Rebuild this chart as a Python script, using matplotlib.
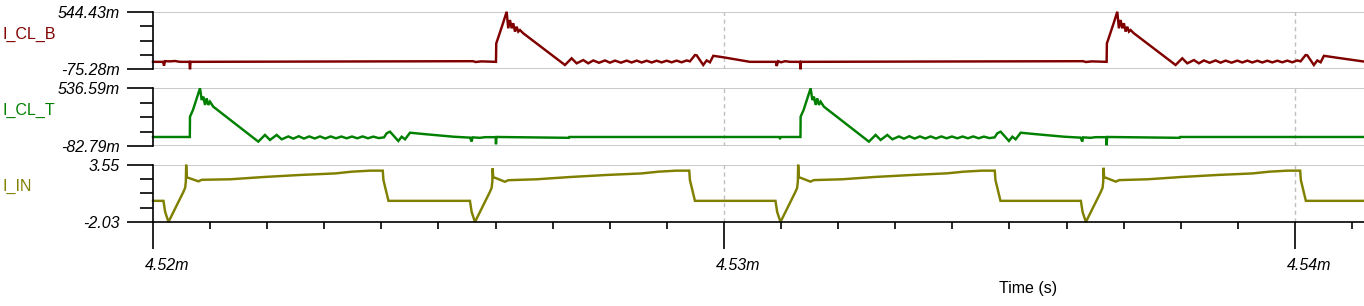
import matplotlib
matplotlib.use("Agg")
import matplotlib.pyplot as plt
import matplotlib.transforms as mtransforms
from matplotlib.ticker import FixedLocator, MultipleLocator
import numpy as np

plt.rcParams['font.family'] = ['Liberation Sans', 'DejaVu Sans']

# ---------------- data (time in microseconds after T0_US, current in A) ----------------
T0_US = 4520.0

ICLB_POINTS = [
    (0.000, 0.005), (0.175, 0.005), (0.193, -0.035), (0.210, 0.012), (0.298, 0.010),
    (0.385, 0.014), (0.473, 0.005), (0.639, 0.005), (0.648, -0.075), (0.657, 0.005),
    (5.604, 0.012), (5.650, 0.003), (5.750, 0.010), (6.007, 0.005),
    (6.012, 0.204), (6.042, 0.258), (6.130, 0.420), (6.194, 0.544), (6.222, 0.366),
    (6.252, 0.455), (6.282, 0.366), (6.310, 0.420), (6.340, 0.330), (6.369, 0.383),
    (6.398, 0.330), (6.427, 0.347), (6.485, 0.312), (7.215, -0.029),
    (7.332, 0.043), (7.420, -0.011), (7.536, 0.024), (7.623, -0.011), (7.711, 0.020),
    (7.811, -0.005), (7.916, 0.020), (8.003, -0.004), (8.091, 0.018), (8.196, -0.004),
    (8.296, 0.018), (8.383, -0.002), (8.471, 0.018), (8.559, -0.002), (8.646, 0.017),
    (8.734, -0.002), (8.821, 0.017), (8.909, -0.001), (8.996, 0.017), (9.084, 0.000),
    (9.171, 0.018), (9.259, 0.000), (9.346, 0.020), (9.404, 0.010), (9.492, 0.078),
    (9.522, 0.075), (9.637, -0.029), (9.697, 0.020), (9.755, 0.000), (9.813, 0.070),
    (9.988, 0.054), (10.455, 0.005), (10.911, 0.005), (10.923, -0.040), (10.950, 0.012),
    (11.000, 0.000), (11.070, 0.012), (11.156, 0.005), (11.331, 0.005), (11.340, -0.075),
    (11.348, 0.005), (16.290, 0.012), (16.340, 0.003), (16.440, 0.010), (16.702, 0.005),
    (16.707, 0.204), (16.737, 0.258), (16.825, 0.420), (16.889, 0.544), (16.917, 0.366),
    (16.947, 0.455), (16.977, 0.366), (17.005, 0.420), (17.035, 0.330), (17.064, 0.383),
    (17.093, 0.330), (17.122, 0.347), (17.180, 0.312), (17.910, -0.029),
    (18.027, 0.043), (18.115, -0.011), (18.231, 0.024), (18.318, -0.011), (18.406, 0.020),
    (18.506, -0.005), (18.611, 0.020), (18.698, -0.004), (18.786, 0.018), (18.891, -0.004),
    (18.991, 0.018), (19.078, -0.002), (19.166, 0.018), (19.254, -0.002), (19.341, 0.017),
    (19.429, -0.002), (19.516, 0.017), (19.604, -0.001), (19.691, 0.017), (19.779, 0.000),
    (19.866, 0.018), (19.954, 0.000), (20.041, 0.020), (20.099, 0.010), (20.187, 0.078),
    (20.217, 0.075), (20.332, -0.029), (20.392, 0.020), (20.450, 0.000), (20.508, 0.070),
    (20.683, 0.054), (21.210, 0.008),
]

ICLT_POINTS = [
    (0.000, 0.014), (0.645, 0.014), (0.648, 0.232), (0.700, 0.304), (0.823, 0.537),
    (0.853, 0.411), (0.881, 0.447), (0.911, 0.358), (0.940, 0.429), (0.969, 0.358),
    (0.998, 0.393), (1.056, 0.339), (1.844, -0.036), (1.961, 0.036), (2.049, -0.018),
    (2.166, 0.036), (2.254, -0.011), (2.370, 0.020), (2.457, -0.004), (2.552, 0.022),
    (2.644, -0.003), (2.737, 0.020), (2.832, -0.002), (2.925, 0.020), (3.018, -0.002),
    (3.112, 0.020), (3.205, 0.000), (3.298, 0.019), (3.392, 0.000), (3.485, 0.019),
    (3.578, 0.000), (3.672, 0.020), (3.765, 0.000), (3.858, 0.018), (3.953, 0.002),
    (4.046, 0.010), (4.093, 0.054), (4.151, 0.071), (4.296, -0.029), (4.356, 0.017),
    (4.414, -0.011), (4.502, 0.060), (4.734, 0.046), (5.259, 0.017), (5.552, 0.007),
    (5.581, -0.036), (5.595, 0.010), (5.727, 0.005), (5.814, 0.012), (6.002, 0.012),
    (6.007, -0.064), (6.016, 0.014), (7.285, 0.005), (7.294, 0.014), (10.960, 0.014),
    (10.981, 0.000), (10.998, 0.014), (11.340, 0.014),
    (11.343, 0.232), (11.395, 0.304), (11.518, 0.537), (11.548, 0.411), (11.576, 0.447),
    (11.606, 0.358), (11.635, 0.429), (11.664, 0.358), (11.693, 0.393), (11.751, 0.339),
    (12.539, -0.036), (12.656, 0.036), (12.744, -0.018), (12.861, 0.036), (12.949, -0.011),
    (13.065, 0.020), (13.152, -0.004), (13.247, 0.022), (13.339, -0.003), (13.432, 0.020),
    (13.527, -0.002), (13.620, 0.020), (13.713, -0.002), (13.807, 0.020), (13.900, 0.000),
    (13.993, 0.019), (14.087, 0.000), (14.180, 0.019), (14.273, 0.000), (14.367, 0.020),
    (14.460, 0.000), (14.553, 0.018), (14.648, 0.002), (14.741, 0.010), (14.788, 0.054),
    (14.846, 0.071), (14.991, -0.029), (15.051, 0.017), (15.109, -0.011), (15.197, 0.060),
    (15.429, 0.046), (15.954, 0.017), (16.247, 0.007), (16.276, -0.036), (16.290, 0.010),
    (16.422, 0.005), (16.509, 0.012), (16.697, 0.012), (16.702, -0.075), (16.711, 0.014),
    (17.980, 0.005), (17.989, 0.014), (21.210, 0.014),
]

IIN_POINTS = [
    (0.000, 0.03), (0.183, 0.03), (0.213, -1.05), (0.271, -2.03), (0.534, 0.92),
    (0.563, 1.30), (0.575, 1.90), (0.581, 3.55), (0.591, 2.30), (0.621, 2.27),
    (0.796, 1.93), (0.854, 2.08), (1.352, 2.13), (1.935, 2.35), (2.577, 2.55),
    (3.190, 2.70), (3.481, 2.87), (3.803, 2.97), (4.024, 2.97), (4.036, 2.05),
    (4.124, 0.03),
    (5.551, 0.03), (5.581, -1.05), (5.639, -2.03), (5.902, 0.92), (5.931, 1.30),
    (5.943, 1.90), (5.949, 3.20), (5.959, 2.30), (5.989, 2.28), (6.164, 1.89),
    (6.222, 2.04), (6.720, 2.13), (7.303, 2.35), (7.945, 2.55), (8.558, 2.70),
    (8.849, 2.87), (9.171, 2.97), (9.392, 2.97), (9.404, 2.05), (9.492, 0.03),
    (10.902, 0.03), (10.932, -1.05), (10.990, -2.03), (11.253, 0.92), (11.282, 1.30),
    (11.294, 1.90), (11.300, 3.55), (11.310, 2.30), (11.340, 2.28), (11.515, 1.90),
    (11.573, 2.05), (12.071, 2.13), (12.654, 2.36), (13.296, 2.55), (13.909, 2.71),
    (14.200, 2.87), (14.522, 2.97), (14.743, 2.97), (14.755, 2.05), (14.843, 0.03),
    (16.251, 0.03), (16.281, -1.05), (16.339, -2.03), (16.602, 0.92), (16.631, 1.30),
    (16.643, 1.90), (16.649, 3.25), (16.659, 2.30), (16.689, 2.28), (16.864, 1.90),
    (16.922, 2.05), (17.420, 2.13), (18.003, 2.35), (18.645, 2.55), (19.258, 2.70),
    (19.549, 2.87), (19.871, 2.97), (20.092, 2.97), (20.104, 2.05), (20.192, 0.03),
    (21.210, 0.03),
]

SERIES_NAMES = ["I_CL_B", "I_CL_T", "I_IN"]
SERIES_COLORS = ["#800000", "#008000", "#808000"]
Y_LIMITS = [(-0.07528, 0.54443), (-0.08279, 0.53659), (-2.03, 3.55)]
Y_TICK_LABELS = [("-75.28m", "544.43m"), ("-82.79m", "536.59m"), ("-2.03", "3.55")]
X_RANGE_US = (4520.0, 4541.21)
X_TICKS_US = [4520.0, 4530.0, 4540.0]
X_TICK_LABELS = ["4.52m", "4.53m", "4.54m"]
X_LABEL = "Time (s)"

# ---------------- layout ----------------
W, H, DPI = 13.64, 3.06, 100
fig = plt.figure(figsize=(W, H), dpi=DPI)
PX_W, PX_H = W * DPI, H * DPI

panel_px = [(11.7, 69.3), (88.3, 146.0), (164.7, 222.0)]  # top, bottom in pixels
left_px = 153.0
GRID = "#c0c0c0"
FS = 11.5
PT = 72.0 / DPI  # points per pixel

series = [ICLB_POINTS, ICLT_POINTS, IIN_POINTS]
axes = []
for i, (top, bot) in enumerate(panel_px):
    ax = fig.add_axes([left_px / PX_W, 1 - bot / PX_H, 1 - left_px / PX_W, (bot - top) / PX_H])
    axes.append(ax)
    pts = np.array(series[i])
    ax.plot(T0_US + pts[:, 0], pts[:, 1], color=SERIES_COLORS[i], lw=1.75,
            solid_joinstyle='miter', clip_on=False, zorder=3)
    ymin, ymax = Y_LIMITS[i]
    ax.set_xlim(*X_RANGE_US)
    ax.set_ylim(ymin, ymax)
    ax.axhline(ymax, color=GRID, lw=1.2, zorder=1)
    if i < 2:
        ax.axhline(ymin, color=GRID, lw=1.2, zorder=1)
    for xt in X_TICKS_US[1:]:
        ax.axvline(xt, color=GRID, lw=1.0, linestyle=(0, (3, 2.5)), zorder=1)
    for s in ['top', 'right']:
        ax.spines[s].set_visible(False)
    ax.spines['left'].set_color('black')
    ax.spines['left'].set_linewidth(1.2)
    ax.spines['left'].set_zorder(4)
    if i < 2:
        ax.spines['bottom'].set_visible(False)
        ax.tick_params(axis='x', which='both', bottom=False, labelbottom=False)
    else:
        ax.spines['bottom'].set_color('black')
        ax.spines['bottom'].set_linewidth(1.2)
        ax.spines['bottom'].set_zorder(4)
    # y ticks
    ax.set_yticks([ymin, ymax], list(Y_TICK_LABELS[i]), fontstyle='italic', fontsize=FS)
    step = (ymax - ymin) / 4
    ax.yaxis.set_minor_locator(FixedLocator([ymin + step, ymin + 2 * step, ymin + 3 * step]))
    ax.tick_params(axis='y', which='major', length=26 * PT, width=1.2, pad=7 * PT, color='black')
    ax.tick_params(axis='y', which='minor', length=13 * PT, width=1.2, color='black')
    ax.set_facecolor('none')
    # series name
    yc = 1 - ((top + bot) / 2 - 6.5) / PX_H
    fig.text(3 / PX_W, yc, SERIES_NAMES[i], color=SERIES_COLORS[i], fontsize=FS,
             ha='left', va='center')

ax3 = axes[2]
ax3.set_xticks(X_TICKS_US, X_TICK_LABELS, fontstyle='italic', fontsize=FS)
ax3.xaxis.set_minor_locator(MultipleLocator(1.0))
ax3.tick_params(axis='x', which='major', length=27 * PT, width=1.2, pad=8.5 * PT, color='black')
ax3.tick_params(axis='x', which='minor', length=7 * PT, width=1.2, color='black')
offset = mtransforms.ScaledTranslation(14 / DPI, 0, fig.dpi_scale_trans)
for lbl in ax3.get_xticklabels():
    lbl.set_transform(lbl.get_transform() + offset)

fig.text(1028 / PX_W, 1 - 288 / PX_H, X_LABEL, fontsize=FS, ha='center', va='center')

fig.savefig("out.png", dpi=DPI, facecolor='white')
